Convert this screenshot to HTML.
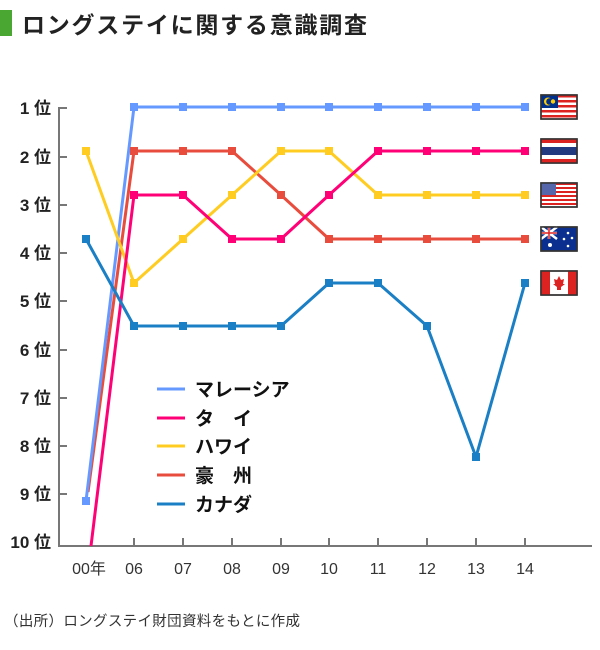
<!DOCTYPE html>
<html><head><meta charset="utf-8"><style>
body{margin:0;background:#fff;}
svg{display:block;font-family:"Liberation Sans","Noto Sans CJK JP",sans-serif;}
</style></head><body>
<svg width="600" height="650" viewBox="0 0 600 650" xmlns="http://www.w3.org/2000/svg">
<rect x="0" y="10" width="12" height="26" fill="#4aa832"/>
<text x="22" y="33" font-size="23" font-weight="bold" fill="#222" textLength="345" lengthAdjust="spacing">ロングステイに関する意識調査</text>
<g stroke="#777" stroke-width="2" fill="none">
<path d="M59,107 V546 H592"/>
<path d="M59,108h8M59,157h8M59,205h8M59,253h8M59,301h8M59,350h8M59,398h8M59,446h8M59,494h8"/>
<path d="M134,546v-8M183,546v-8M232,546v-8M281,546v-8M329,546v-8M378,546v-8M427,546v-8M476,546v-8M525,546v-8"/>
</g>
<g font-size="17" font-weight="bold" fill="#222" text-anchor="end">
<text x="51" y="114">1 位</text><text x="51" y="163">2 位</text><text x="51" y="211">3 位</text><text x="51" y="259">4 位</text><text x="51" y="307">5 位</text><text x="51" y="356">6 位</text><text x="51" y="404">7 位</text><text x="51" y="452">8 位</text><text x="51" y="500">9 位</text><text x="51" y="548">10 位</text>
</g>
<g font-size="16" fill="#333" text-anchor="middle">
<text x="89" y="574">00年</text><text x="134" y="574">06</text><text x="183" y="574">07</text><text x="232" y="574">08</text><text x="281" y="574">09</text><text x="329" y="574">10</text><text x="378" y="574">11</text><text x="427" y="574">12</text><text x="476" y="574">13</text><text x="525" y="574">14</text>
</g>
<text x="4" y="626" font-size="14.5" fill="#333" textLength="296" lengthAdjust="spacing">（出所）ロングステイ財団資料をもとに作成</text>
<g fill="none" stroke-width="3" stroke-linejoin="round">
<polyline stroke="#e84c3d" points="88,492 134,151 183,151 232,151 281,195 329,239 378,239 427,239 476,239 525,239"/>
<polyline stroke="#6699ff" points="86,501 134,107 183,107 232,107 281,107 329,107 378,107 427,107 476,107 525,107"/>
<polyline stroke="#ffcc22" points="86,151 134,283 183,239 232,195 281,151 329,151 378,195 427,195 476,195 525,195"/>
<polyline stroke="#ff0077" points="91,546 134,195 183,195 232,239 281,239 329,195 378,151 427,151 476,151 525,151"/>
<polyline stroke="#1a7fc4" points="86,239 134,326 183,326 232,326 281,326 329,283 378,283 427,326 476,457 525,283"/>
</g>
<g fill="#6699ff"><rect x="82" y="497" width="8" height="8"/><rect x="130" y="103" width="8" height="8"/><rect x="179" y="103" width="8" height="8"/><rect x="228" y="103" width="8" height="8"/><rect x="277" y="103" width="8" height="8"/><rect x="325" y="103" width="8" height="8"/><rect x="374" y="103" width="8" height="8"/><rect x="423" y="103" width="8" height="8"/><rect x="472" y="103" width="8" height="8"/><rect x="521" y="103" width="8" height="8"/></g>
<g fill="#e84c3d"><rect x="130" y="147" width="8" height="8"/><rect x="179" y="147" width="8" height="8"/><rect x="228" y="147" width="8" height="8"/><rect x="277" y="191" width="8" height="8"/><rect x="325" y="235" width="8" height="8"/><rect x="374" y="235" width="8" height="8"/><rect x="423" y="235" width="8" height="8"/><rect x="472" y="235" width="8" height="8"/><rect x="521" y="235" width="8" height="8"/></g>
<g fill="#ffcc22"><rect x="82" y="147" width="8" height="8"/><rect x="130" y="279" width="8" height="8"/><rect x="179" y="235" width="8" height="8"/><rect x="228" y="191" width="8" height="8"/><rect x="277" y="147" width="8" height="8"/><rect x="325" y="147" width="8" height="8"/><rect x="374" y="191" width="8" height="8"/><rect x="423" y="191" width="8" height="8"/><rect x="472" y="191" width="8" height="8"/><rect x="521" y="191" width="8" height="8"/></g>
<g fill="#ff0077"><rect x="130" y="191" width="8" height="8"/><rect x="179" y="191" width="8" height="8"/><rect x="228" y="235" width="8" height="8"/><rect x="277" y="235" width="8" height="8"/><rect x="325" y="191" width="8" height="8"/><rect x="374" y="147" width="8" height="8"/><rect x="423" y="147" width="8" height="8"/><rect x="472" y="147" width="8" height="8"/><rect x="521" y="147" width="8" height="8"/></g>
<g fill="#1a7fc4"><rect x="82" y="235" width="8" height="8"/><rect x="130" y="322" width="8" height="8"/><rect x="179" y="322" width="8" height="8"/><rect x="228" y="322" width="8" height="8"/><rect x="277" y="322" width="8" height="8"/><rect x="325" y="279" width="8" height="8"/><rect x="374" y="279" width="8" height="8"/><rect x="423" y="322" width="8" height="8"/><rect x="472" y="453" width="8" height="8"/><rect x="521" y="279" width="8" height="8"/></g>
<g stroke-width="3"><line x1="157" y1="389" x2="185" y2="389" stroke="#6699ff"/><line x1="157" y1="418" x2="185" y2="418" stroke="#ff0077"/><line x1="157" y1="446" x2="185" y2="446" stroke="#ffcc22"/><line x1="157" y1="475" x2="185" y2="475" stroke="#e84c3d"/><line x1="157" y1="504" x2="185" y2="504" stroke="#1a7fc4"/></g>
<g font-size="19" font-weight="bold" fill="#111">
<text x="195" y="396">マレーシア</text><text x="195" y="425">タ　イ</text><text x="195" y="453">ハワイ</text><text x="195" y="482">豪　州</text><text x="195" y="511">カナダ</text>
</g>
<g stroke="#333" stroke-width="1.5">
<g transform="translate(541,95)"><rect width="36" height="24" fill="#fff"/><g fill="#d22" stroke="none"><rect y="0" width="36" height="2.5"/><rect y="5" width="36" height="2.5"/><rect y="10" width="36" height="2.5"/><rect y="15" width="36" height="2.5"/><rect y="20" width="36" height="2.5"/></g><rect width="17" height="13" fill="#012f8c" stroke="none"/><circle cx="7" cy="6.5" r="4" fill="#fc0" stroke="none"/><circle cx="8.5" cy="6.5" r="3.3" fill="#012f8c" stroke="none"/><circle cx="12" cy="6.5" r="2.2" fill="#fc0" stroke="none"/><rect width="36" height="24" fill="none"/></g>
<g transform="translate(541,139)"><rect width="36" height="24" fill="#fff"/><rect y="0" width="36" height="4" fill="#d22" stroke="none"/><rect y="20" width="36" height="4" fill="#d22" stroke="none"/><rect y="8" width="36" height="8" fill="#223a80" stroke="none"/><rect width="36" height="24" fill="none"/></g>
<g transform="translate(541,183)"><rect width="36" height="24" fill="#fff"/><g fill="#d22" stroke="none"><rect y="0" width="36" height="2"/><rect y="4" width="36" height="2"/><rect y="8" width="36" height="2"/><rect y="12" width="36" height="2"/><rect y="16" width="36" height="2"/><rect y="20" width="36" height="2"/></g><rect width="15" height="12" fill="#5566aa" stroke="none"/><rect width="36" height="24" fill="none"/></g>
<g transform="translate(541,227)"><rect width="36" height="24" fill="#0a2f8f"/><path d="M0,0L16,12M16,0L0,12M8,0V12M0,6H16" stroke="#fff" stroke-width="2.5"/><path d="M8,0V12M0,6H16" stroke="#d22" stroke-width="1.5"/><g fill="#fff" stroke="none"><circle cx="9" cy="18" r="2"/><circle cx="27" cy="6" r="1.3"/><circle cx="31" cy="11" r="1.3"/><circle cx="27" cy="19" r="1.3"/><circle cx="23" cy="12" r="1.3"/></g><rect width="36" height="24" fill="none"/></g>
<g transform="translate(541,271)"><rect width="36" height="24" fill="#fff"/><rect width="9" height="24" fill="#d22" stroke="none"/><rect x="27" width="9" height="24" fill="#d22" stroke="none"/><path d="M18,5L20,9L23,8L22,13L24,13L20,16V19H16V16L12,13L14,13L13,8L16,9Z" fill="#d22" stroke="none"/><rect width="36" height="24" fill="none"/></g>
</g>
</svg>
</body></html>
